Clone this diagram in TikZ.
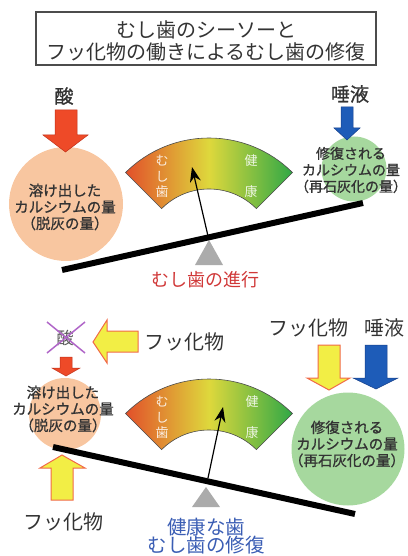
\documentclass[tikz,border=0pt]{standalone}
\usepackage{fontspec}
\newfontfamily\jp{Noto Sans CJK JP}
\newfontfamily\jpm{Noto Sans CJK JP}[FakeBold=1]
\usetikzlibrary{calc,arrows.meta}
\definecolor{txt}{HTML}{333333}
\definecolor{peach}{HTML}{F8C6A0}
\definecolor{lgreen}{HTML}{A6D89E}
\definecolor{redarr}{HTML}{EE4A28}
\definecolor{redarrd}{HTML}{C03018}
\definecolor{bluearr}{HTML}{1E5CB8}
\definecolor{bluearrd}{HTML}{17408A}
\definecolor{yelarr}{HTML}{F2EE45}
\definecolor{yelarrd}{HTML}{F06A48}
\definecolor{fanred}{HTML}{E2502A}
\definecolor{fanyel}{HTML}{DED83C}
\definecolor{fangreen}{HTML}{30A846}
\definecolor{purplex}{HTML}{B066C8}
\definecolor{redtxt}{HTML}{D03838}
\definecolor{bluetxt}{HTML}{3A5DB4}
\tikzset{
  jtxt/.style={font=\jp\fontsize{#1}{#1}\selectfont, text=txt, inner sep=0pt},
  jtxtb/.style={font=\jpm\fontsize{#1}{#1}\selectfont, text=txt, inner sep=0pt},
  circtxt/.style={font=\jpm\fontsize{#1}{16.5}\selectfont, text=txt, align=center, inner sep=0pt},
  circtxt/.default=14.5,
  fantxt/.style={font=\jp\fontsize{13}{15.5}\selectfont, text=white, text opacity=0.85, align=center, inner sep=0pt},
  redarrow/.style={fill=redarr, draw=redarrd, line width=0.5pt},
  bluearrow/.style={fill=bluearr, draw=bluearrd, line width=0.5pt},
  yelarrow/.style={fill=yelarr, draw=yelarrd, line width=1pt, line join=miter},
  beam/.style={line width=6pt, black},
  fulcrum/.style={fill=black!33},
  fanstyle/.style={left color=fanred, right color=fangreen, middle color=fanyel, draw=black!70, line width=0.6pt},
  needle/.style={line width=1.2pt, -{Stealth[length=15pt,width=11pt]}}
}
\begin{document}
\begin{tikzpicture}[x=1pt,y=1pt]
\useasboundingbox (0,0) rectangle (407,-556);
% title
\draw[black!70, line width=1.2pt] (36,-12) rectangle (376,-65);
\node[jtxt=20] (t1) at (206,-30) {むし歯のシーソーと};
\node[jtxt=20] (t2) at (206,-52) {フッ化物の働きによるむし歯の修復};

% ===== top seesaw =====
\fill[peach] (66,-204) circle[radius=57pt];
\fill[lgreen] (354,-169) circle[radius=32.5pt];
% red arrow
\path[redarrow] (55,-110) -- (77,-110) -- (77,-135) -- (88,-135) -- (65.5,-152) -- (43,-135) -- (55,-135) -- cycle;
% blue arrow
\path[bluearrow] (341,-107) -- (353,-107) -- (353,-128) -- (360,-128) -- (347,-140) -- (334,-128) -- (341,-128) -- cycle;
\node[jtxtb=19] (acid1) at (64,-96) {酸};
\node[jtxtb=19] (sal1) at (350,-94) {唾液};
% fulcrum and beam
\fill[fulcrum] (209,-240) -- (223,-265) -- (195,-265) -- cycle;
\coordinate (b1l) at (62,-270);
\coordinate (b1r) at (363,-203);
\draw[beam] (b1l) -- (b1r);
% fan
\coordinate (c1) at (209,-256);
\path[fanstyle] ($(c1)+(135:118)$) arc[start angle=135, end angle=45, radius=118pt] -- ($(c1)+(45:67)$) arc[start angle=45, end angle=135, radius=67pt] -- cycle;
\node[fantxt] (m1) at (162,-176.5) {む\\し\\歯};
\node[fantxt] (k1) at (251,-161) {健};
\node[fantxt] (k1b) at (251,-192) {康};
\coordinate (n1s) at (208,-236);
\coordinate (n1e) at (192,-167);
\draw[needle] (n1s) -- (n1e);
\node[circtxt] (lc1) at (65,-207) {溶け出した\\カルシウムの量\\（脱灰の量）};
\node[circtxt=14] (rc1) at (351,-170) {修復される\\カルシウムの量\\（再石灰化の量）};
\node[jtxt=18, text=redtxt] (prog) at (205,-280) {むし歯の進行};

% ===== bottom seesaw =====
\fill[peach] (65,-414) circle[radius=36pt];
\fill[lgreen] (348,-449) circle[radius=56.5pt];
% crossed acid
\node[jtxt=17, text=black!65] (acid2) at (65,-338) {酸};
\draw[purplex, line width=1.5pt] (47,-322) -- (85,-353);
\draw[purplex, line width=1.5pt] (47,-353) -- (85,-322);
% yellow left arrow
\path[yelarrow] (93,-342) -- (107,-320) -- (107,-331) -- (138,-331) -- (138,-352) -- (107,-352) -- (107,-363) -- cycle;
\node[jtxt=20] (fl1) at (184,-342) {フッ化物};
% small red arrow
\path[redarrow] (60,-357) -- (72,-357) -- (72,-368) -- (80,-368) -- (66,-376) -- (52,-368) -- (60,-368) -- cycle;
% yellow up arrow
\path[yelarrow] (62,-455) -- (85,-468) -- (73,-468) -- (73,-500) -- (51,-500) -- (51,-468) -- (40,-468) -- cycle;
\node[jtxt=20] (fl2) at (63,-522) {フッ化物};
% right arrows
\node[jtxt=20] (fl3) at (308,-328) {フッ化物};
\node[jtxt=20] (sal2) at (384,-328) {唾液};
\path[yelarrow] (318,-345) -- (340,-345) -- (340,-378) -- (350,-378) -- (329,-390) -- (307,-378) -- (318,-378) -- cycle;
\path[bluearrow] (365,-345) -- (387,-345) -- (387,-378) -- (398,-378) -- (376,-389) -- (353,-378) -- (365,-378) -- cycle;
% fulcrum and beam
\fill[fulcrum] (206,-487) -- (220,-507) -- (192,-507) -- cycle;
\coordinate (b2l) at (53,-447);
\coordinate (b2r) at (355,-514);
\draw[beam] (b2l) -- (b2r);
% fan
\coordinate (c2) at (209,-497);
\path[fanstyle] ($(c2)+(135:118)$) arc[start angle=135, end angle=45, radius=118pt] -- ($(c2)+(45:67)$) arc[start angle=45, end angle=135, radius=67pt] -- cycle;
\node[fantxt] (m2) at (162,-417.5) {む\\し\\歯};
\node[fantxt] (k2) at (252,-402) {健};
\node[fantxt] (k2b) at (252,-433) {康};
\coordinate (n2s) at (208,-478);
\coordinate (n2e) at (223,-407);
\draw[needle] (n2s) -- (n2e);
\node[circtxt] (lc2) at (63,-409) {溶け出した\\カルシウムの量\\（脱灰の量）};
\node[circtxt] (rc2) at (347,-444) {修復される\\カルシウムの量\\（再石灰化の量）};
\node[jtxt=19.5, text=bluetxt] (h1) at (206,-527) {健康な歯};
\node[jtxt=19.5, text=bluetxt] (h2) at (206,-545) {むし歯の修復};
\end{tikzpicture}
\end{document}
